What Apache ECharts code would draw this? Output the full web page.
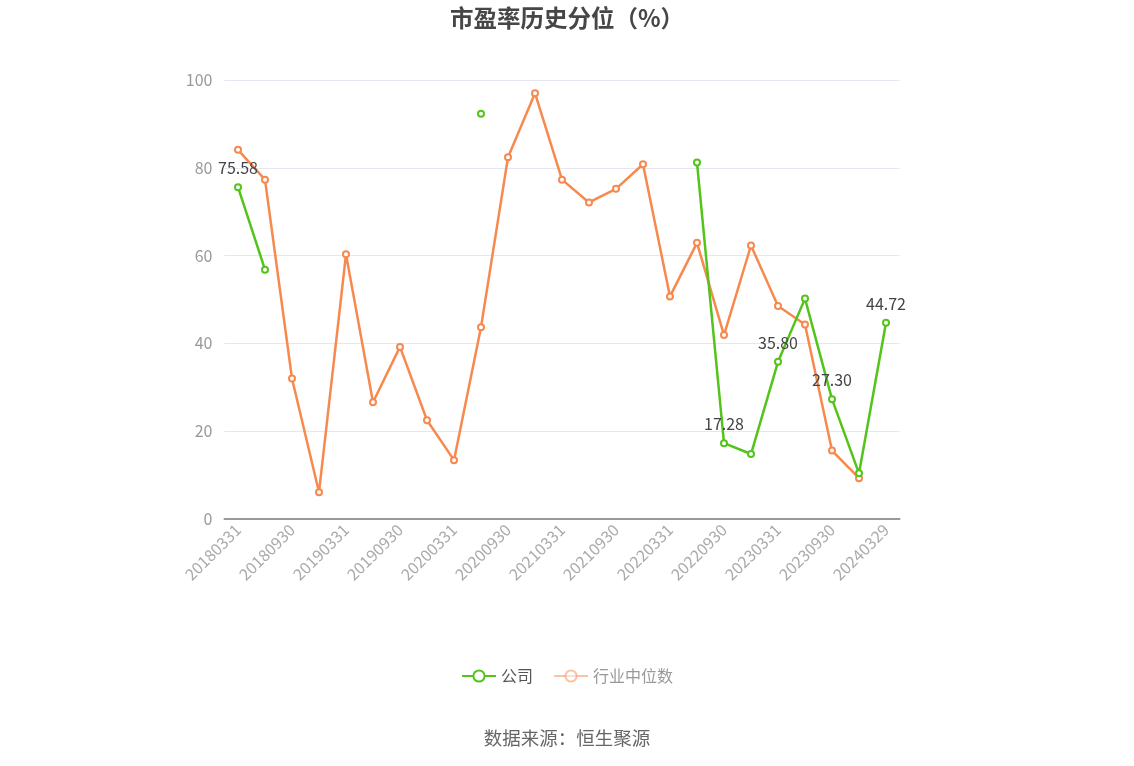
<!DOCTYPE html>
<html>
<head>
<meta charset="utf-8">
<script src="https://cdn.jsdelivr.net/npm/echarts@6/dist/echarts.min.js"></script>
<style>html,body{margin:0;padding:0;background:#fff;}#c{width:1134px;height:766px;}</style>
</head>
<body>
<div id="c"></div>
<script>
var categories = ['20180331','20180630','20180930','20181231','20190331','20190630','20190930','20191231','20200331','20200630','20200930','20201231','20210331','20210630','20210930','20211231','20220331','20220630','20220930','20221230','20230331','20230630','20230930','20231229','20240329'];
var companyValues = [75.58,56.8,null,null,null,null,null,null,null,92.3,null,null,null,null,null,null,null,81.2,17.28,14.8,35.80,50.2,27.30,10.4,44.72];
var industryValues = [84.1,77.3,32.0,6.1,60.3,26.6,39.2,22.5,13.4,43.7,82.4,97.0,77.3,72.1,75.2,80.8,50.7,62.9,41.9,62.3,48.5,44.3,15.6,9.3,null];
var labeledIndices = [0,18,20,22,24];
var yTicks = [0,20,40,60,80,100];

var FONT = '"Noto Sans CJK SC", "Noto Sans", sans-serif';
var GREEN = '#52c41a';
var ORANGE = '#f7894f';

var companyData = companyValues.map(function(v,i){
  return {value: v, label: {show: labeledIndices.indexOf(i) >= 0 && v !== null}};
});

var chart = echarts.init(document.getElementById('c'));
chart.setOption({
  animation: false,
  textStyle: {fontFamily: FONT},
  title: {
    text: '市盈率历史分位（%）',
    left: 'center', top: 1,
    textStyle: {fontSize: 23.5, fontWeight: 'bold', color: '#464646', fontFamily: FONT}
  },
  legend: {
    bottom: 77, left: 'center',
    itemWidth: 34, itemHeight: 14, itemGap: 20,
    textStyle: {fontSize: 16, color: '#555', fontFamily: FONT},
    data: [
      {name: '公司'},
      {name: '行业中位数', textStyle: {color: '#999'}, itemStyle: {opacity: 0.5}, lineStyle: {opacity: 0.5}}
    ]
  },
  graphic: [{
    type: 'text', left: 'center', top: 729,
    style: {text: '数据来源：恒生聚源', fontSize: 18.5, fill: '#666', fontFamily: FONT}
  }],
  grid: {left: 224.5, right: 234.5, top: 80, bottom: 247},
  xAxis: {
    type: 'category',
    data: categories,
    boundaryGap: true,
    axisLine: {lineStyle: {color: '#999', width: 2}},
    axisTick: {alignWithLabel: true, interval: 1, lineStyle: {color: '#999'}},
    axisLabel: {interval: 1, rotate: 45, color: '#aaa', fontSize: 16, fontFamily: FONT, margin: 8}
  },
  yAxis: {
    type: 'value', min: yTicks[0], max: yTicks[yTicks.length-1], interval: 20,
    axisLine: {show: false}, axisTick: {show: false},
    axisLabel: {color: '#999', fontSize: 16, fontFamily: FONT, margin: 12},
    splitLine: {lineStyle: {color: '#e4e7f0'}}
  },
  series: [
    {
      name: '公司', type: 'line', data: companyData,
      connectNulls: false,
      symbol: 'emptyCircle', symbolSize: 6,
      itemStyle: {color: GREEN, borderWidth: 2},
      lineStyle: {color: GREEN, width: 2.5},
      label: {position: 'top', color: '#444', fontSize: 16, fontFamily: FONT, distance: 7,
        formatter: function(p){ return Number(p.value).toFixed(2); }},
      z: 3
    },
    {
      name: '行业中位数', type: 'line', data: industryValues,
      connectNulls: false,
      symbol: 'emptyCircle', symbolSize: 6,
      itemStyle: {color: ORANGE, borderWidth: 2},
      lineStyle: {color: ORANGE, width: 2.5},
      z: 2
    }
  ]
});
</script>
</body>
</html>
